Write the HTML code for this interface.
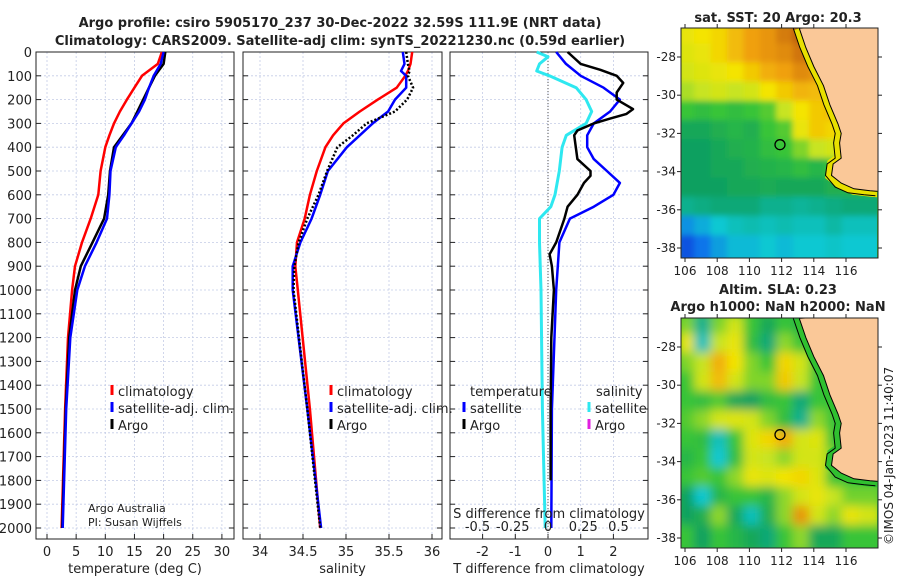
<!DOCTYPE html>
<html><head><meta charset="utf-8"><style>
html,body{margin:0;padding:0;background:#fff}
svg text{font-family:"DejaVu Sans","Liberation Sans",sans-serif;fill:#222}
</style></head><body>
<svg id="fig" width="900" height="580" viewBox="0 0 900 580" xmlns="http://www.w3.org/2000/svg">
<text x="340" y="27" text-anchor="middle" font-size="13" font-weight="bold">Argo profile: csiro 5905170_237 30-Dec-2022 32.59S 111.9E (NRT data)</text>
<text x="340" y="45" text-anchor="middle" font-size="13" font-weight="bold">Climatology: CARS2009. Satellite-adj clim: synTS_20221230.nc (0.59d earlier)</text>
<g id="plots"></g>
<text x="778" y="22" text-anchor="middle" font-size="13" font-weight="bold">sat. SST: 20 Argo: 20.3</text>
<text x="778" y="294" text-anchor="middle" font-size="13" font-weight="bold">Altim. SLA: 0.23</text>
<text x="778" y="311" text-anchor="middle" font-size="13" font-weight="bold">Argo h1000: NaN h2000: NaN</text>
<text transform="translate(893,545) rotate(-90)" font-size="12">©IMOS 04-Jan-2023 11:40:07</text>
<text x="88" y="512" font-size="11">Argo Australia</text>
<text x="88" y="526" font-size="11">PI: Susan Wijffels</text>
</svg>
<script>
// ---- profile data ----
const tDepth = [0,50,100,150,200,250,300,350,400,500,600,700,800,900,1000,1200,1500,2000];
const tArgo  = [20.3,20,18.5,17.5,16.5,15.5,14.5,13,11.5,10.8,10.5,9.8,7.8,5.8,4.8,3.8,3.2,2.6];
const tSat   = [20,19.5,18.3,17.5,16.8,15.8,14.5,13.2,11.8,10.9,10.7,10.3,8.5,6.5,5.2,4,3.3,2.7];
const tClim  = [19.7,19,16.3,15,13.7,12.5,11.5,10.7,10,9.2,8.8,7.5,6,4.8,4.3,3.6,3.1,2.5];
const sDepth = [0,50,80,100,150,200,250,300,350,400,500,600,700,800,900,1000,1500,2000];
const sClim  = [35.77,35.75,35.72,35.69,35.59,35.37,35.16,34.97,34.85,34.76,34.66,34.58,34.52,34.43,34.41,34.44,34.58,34.70];
const sSat   = [35.66,35.68,35.64,35.7,35.7,35.57,35.49,35.31,35.16,35.01,34.79,34.70,34.6,34.47,34.38,34.38,34.55,34.71];
const sArgo  = [35.7,35.72,35.74,35.72,35.78,35.71,35.57,35.24,35.08,34.9,34.78,34.68,34.55,34.45,34.4,34.39,34.55,34.7];
const dtDepth = [0,50,100,150,200,250,300,350,400,450,500,550,600,650,700,800,1000,1500,2000];
const dtSat   = [0.25,0.55,1.0,1.7,2.2,1.9,1.4,1.2,1.2,1.4,1.8,2.2,2.0,1.4,0.67,0.35,0.25,0.12,0.1];
const daDepth = [0,25,50,75,100,130,170,200,240,260,280,300,330,350,400,450,500,520,550,600,650,700,800,850,900,1000,1200,1500,1800];
const dtArgo  = [0.6,0.8,1.0,1.6,2.1,2.3,2.1,2.1,2.6,2.4,1.9,1.4,0.9,0.8,0.85,0.9,1.3,1.3,1.1,0.9,0.6,0.5,0.25,0.05,0.12,0.18,0.1,0.08,0.08];
const dsDepth = [0,20,50,80,100,150,200,250,300,350,400,500,600,650,700,800,1000,1500,2000];
const dsSat   = [-0.08,0,-0.06,-0.08,0.01,0.2,0.27,0.31,0.27,0.13,0.1,0.08,0.05,0.02,-0.06,-0.06,-0.05,-0.04,-0.02];
const depthTicks = [0,100,200,300,400,500,600,700,800,900,1000,1100,1200,1300,1400,1500,1600,1700,1800,1900,2000];
const tTicks = [0,5,10,15,20,25,30];
const sTicks = [34,34.5,35,35.5,36];
const dtTicks = [-2,-1,0,1,2];
const dsTicks = [-0.5,-0.25,0,0.25,0.5];
const dsTickLabels = ['-0.5','-0.25','0','0.25','0.5'];
// ---- map data (rows lat -27..-38, cols lon ~106..117) ----
const sstGrid = [
[.66,.68,.7,.74,.78,.8,.85,.9,.88,.8,.78,.78],
[.64,.66,.7,.74,.78,.8,.82,.86,.84,.78,.76,.76],
[.62,.64,.66,.68,.72,.76,.78,.82,.8,.76,.76,.76],
[.58,.6,.62,.6,.62,.68,.72,.75,.74,.74,.74,.74],
[.5,.48,.5,.48,.5,.52,.6,.68,.72,.74,.72,.72],
[.42,.42,.44,.46,.44,.5,.52,.66,.72,.7,.7,.7],
[.4,.4,.42,.44,.45,.48,.5,.55,.6,.62,.6,.6],
[.4,.4,.42,.42,.44,.45,.46,.48,.46,.5,.55,.55],
[.4,.4,.4,.42,.42,.43,.42,.42,.42,.44,.45,.45],
[.36,.37,.38,.38,.38,.36,.36,.35,.36,.37,.38,.38],
[.22,.26,.3,.32,.33,.32,.33,.32,.32,.34,.32,.32],
[.12,.18,.24,.28,.28,.3,.28,.3,.3,.31,.3,.3]];
const slaGrid = [
[.55,.36,.55,.62,.5,.42,.5,.46,.5,.5,.5,.5],
[.66,.32,.6,.66,.48,.38,.56,.5,.55,.5,.5,.5],
[.55,.6,.76,.68,.55,.5,.7,.62,.5,.5,.5,.5],
[.5,.62,.74,.62,.55,.55,.72,.6,.5,.5,.5,.5],
[.5,.48,.52,.42,.4,.48,.5,.38,.5,.5,.5,.5],
[.52,.56,.62,.64,.62,.55,.48,.36,.56,.5,.5,.5],
[.5,.48,.32,.5,.64,.7,.76,.62,.64,.5,.5,.5],
[.46,.5,.3,.48,.62,.6,.56,.62,.62,.55,.5,.5],
[.5,.52,.5,.56,.66,.64,.68,.7,.64,.5,.5,.5],
[.4,.3,.46,.5,.5,.46,.56,.62,.66,.6,.54,.54],
[.4,.44,.56,.42,.32,.44,.56,.8,.62,.56,.66,.62],
[.5,.4,.5,.46,.42,.38,.5,.56,.42,.42,.5,.5]];
const coastLon = [113.1,113.5,114,114.6,115,115.5,115.7,115.6,115.7,115.2,115.1,115.7,116.5,117.5,118.2];
const coastLat = [-26.5,-27.5,-28.5,-29.5,-30.5,-31.5,-32,-32.5,-33.3,-33.6,-34.2,-34.6,-34.9,-35,-35.05];
const lonTicks = [106,108,110,112,114,116];
const latTicks = [-28,-30,-32,-34,-36,-38];
const argoLon = 111.9, argoLat = -32.59;

const NS='http://www.w3.org/2000/svg';
const root=document.getElementById('plots');
function mk(tag,attrs,parent){const e=document.createElementNS(NS,tag);for(const k in attrs)e.setAttribute(k,attrs[k]);(parent||root).appendChild(e);return e;}
const Y0=52, YK=0.238, YB=539;
const yD=d=>Y0+d*YK;

function panel(name,x0,x1,xf,ticks,labels,xlabel,showY){
  const g=mk('g',{});
  
  
  depthTicks.forEach(d=>{const l=mk('line',{x1:x0,x2:x1,y1:yD(d),y2:yD(d),stroke:'#c4cce6','stroke-width':0.8,'stroke-dasharray':'2,2'},g);
    
    mk('line',{x1:x0,x2:x0+5,y1:yD(d),y2:yD(d),stroke:'#222'},g);mk('line',{x1:x1-5,x2:x1,y1:yD(d),y2:yD(d),stroke:'#222'},g);
    if(showY){const t=mk('text',{x:32,y:yD(d)+5,'text-anchor':'end','font-size':13},g);t.textContent=d;
      }
  });
  ticks.forEach((v,i)=>{const x=xf(v);const l=mk('line',{x1:x,x2:x,y1:Y0,y2:YB,stroke:'#c4cce6','stroke-width':0.8,'stroke-dasharray':'2,2'},g);
    
    mk('line',{x1:x,x2:x,y1:YB-5,y2:YB,stroke:'#222'},g);
    const t=mk('text',{x:x,y:YB+17,'text-anchor':'middle','font-size':13},g);t.textContent=labels[i];
    });
  const r=mk('rect',{x:x0,y:Y0,width:x1-x0,height:YB-Y0,fill:'none',stroke:'#222','stroke-width':1},g);
  
  const xl=mk('text',{x:(x0+x1)/2,y:573,'text-anchor':'middle','font-size':13},g);xl.textContent=xlabel;
  
  return g;
}
function line(g,name,xs,ds,xf,color,w,dash){
  const p=mk('polyline',{points:xs.map((v,i)=>xf(v).toFixed(1)+','+yD(ds[i]).toFixed(1)).join(' '),fill:'none',stroke:color,'stroke-width':w,'stroke-linejoin':'round'},g);
  if(dash)p.setAttribute('stroke-dasharray',dash);
  
  
}
function legend(g,x,y,color,label,name){
  const m=mk('line',{x1:x,x2:x,y1:y-11,y2:y-1,stroke:color,'stroke-width':3},g);
  
  const t=mk('text',{x:x+6,y:y,'font-size':13},g);t.textContent=label;
  
}
// panel 1
const xT=v=>47+5.83*v;
const g1=panel('temperature-panel',36,234,xT,tTicks,tTicks,'temperature (deg C)',true);
line(g1,'temp-climatology-line',tClim,tDepth,xT,'#f00',2.5);
line(g1,'temp-argo-line',tArgo,tDepth,xT,'#000',2.5);
line(g1,'temp-satellite-line',tSat,tDepth,xT,'#00f',2.5);
legend(g1,112,396,'#f00','climatology','legend-climatology');
legend(g1,112,413,'#00f','satellite-adj. clim.','legend-satellite');
legend(g1,112,430,'#000','Argo','legend-argo');
// panel 2
const xS=v=>260+86*(v-34);
const g2=panel('salinity-panel',243,442,xS,sTicks,sTicks,'salinity',false);
line(g2,'sal-climatology-line',sClim,sDepth,xS,'#f00',2.5);
line(g2,'sal-satellite-line',sSat,sDepth,xS,'#00f',2.5);
line(g2,'sal-argo-line',sArgo,sDepth,xS,'#000',2.5,'2,2');
legend(g2,331,396,'#f00','climatology','legend-climatology');
legend(g2,331,413,'#00f','satellite-adj. clim.','legend-satellite');
legend(g2,331,430,'#000','Argo','legend-argo');
// panel 3
const xDT=v=>548+32.7*v, xDS=v=>548+141*v;
const g3=panel('difference-panel',450,648,xDT,dtTicks,dtTicks,'T difference from climatology',false);
const z=mk('line',{x1:548,x2:548,y1:Y0,y2:YB,stroke:'#555','stroke-width':1,'stroke-dasharray':'1,2'},g3);

line(g3,'sdiff-satellite-line',dsSat,dsDepth,xDS,'#2ee8f0',3);
line(g3,'tdiff-satellite-line',dtSat,dtDepth,xDT,'#00f',2.5);
line(g3,'tdiff-argo-line',dtArgo,daDepth,xDT,'#000',2.5);
dsTicks.forEach((v,i)=>{const t=mk('text',{x:xDS(v),y:531,'text-anchor':'middle','font-size':13},g3);t.textContent=dsTickLabels[i];
  });
const st=mk('text',{x:549,y:518,'text-anchor':'middle','font-size':13},g3);st.textContent='S difference from climatology';

const th=mk('text',{x:470,y:396,'font-size':13},g3);th.textContent='temperature';

const sh=mk('text',{x:596,y:396,'font-size':13},g3);sh.textContent='salinity';

legend(g3,464,413,'#00f','satellite','legend-t-satellite');
legend(g3,464,430,'#000','Argo','legend-t-argo');
legend(g3,589,413,'#2ee8f0','satellite','legend-s-satellite');
legend(g3,589,430,'#e020e0','Argo','legend-s-argo');

// ---- maps ----
const stops=[[0,[0,32,160]],[.15,[16,96,240]],[.3,[16,200,210]],[.4,[16,160,96]],[.5,[56,196,56]],[.6,[200,228,32]],[.68,[244,228,0]],[.78,[240,160,16]],[.9,[192,96,16]],[1,[150,40,10]]];
function cmap(v){for(let i=1;i<stops.length;i++){if(v<=stops[i][0]){const a=stops[i-1],b=stops[i],f=(v-a[0])/(b[0]-a[0]);
  return 'rgb('+a[1].map((c,k)=>Math.round(c+(b[1][k]-c)*f)).join(',')+')';}}return 'rgb(150,40,10)';}
function map(name,top,grid,blur,bandColor){
  const MX0=681,MX1=878,MY0=top,MY1=top+230;
  const lx=lon=>685+(lon-106)*16.1, ly=lat=>top+29+(-28-lat)*19.1;
  const g=mk('g',{});
  
  
  const cid='clip-'+name;
  const defs=mk('defs',{},g);
  const cp=mk('clipPath',{id:cid},defs);mk('rect',{x:MX0,y:MY0,width:MX1-MX0,height:MY1-MY0},cp);
  const f=mk('filter',{id:'blur-'+name,x:'-10%',y:'-10%',width:'120%',height:'120%'},defs);mk('feGaussianBlur',{stdDeviation:blur},f);
  const cg=mk('g',{'clip-path':'url(#'+cid+')'},g);
  mk('rect',{x:MX0,y:MY0,width:MX1-MX0,height:MY1-MY0,fill:cmap(0.5)},cg);
  const hg=mk('g',{filter:'url(#blur-'+name+')'},cg);
  const nr=grid.length,nc=grid[0].length,cw=(MX1-MX0)/nc,ch=(MY1-MY0)/nr;
  grid.forEach((row,r)=>row.forEach((v,c)=>{const e=mk('rect',{x:MX0+c*cw-cw*0.2,y:MY0+r*ch-ch*0.2,width:cw*1.4+0.5,height:ch*1.4+0.5,fill:cmap(v)},hg);
    }));
  const cpts=coastLon.map((lo,i)=>lx(lo).toFixed(1)+','+ly(coastLat[i]).toFixed(1));
  const band=mk('polyline',{points:cpts.join(' '),fill:'none',stroke:bandColor,'stroke-width':12},cg);
  
  const shelf=mk('polyline',{points:coastLon.map((lo,i)=>(lx(lo)-6).toFixed(1)+','+(ly(coastLat[i])+(i>10?4:0)).toFixed(1)).join(' '),fill:'none',stroke:'#000','stroke-width':1},cg);
  
  const land=mk('polygon',{points:cpts.join(' ')+' '+(MX1+5)+','+(MY1+5)+' '+(MX1+5)+','+(MY0-5),fill:'#fac898',stroke:'#000','stroke-width':1},cg);
  
  mk('rect',{x:MX1-1,y:ly(-35.05),width:3,height:MY1-ly(-35.05),fill:cmap(0.5)},cg);
  const c=mk('circle',{cx:lx(argoLon),cy:ly(argoLat),r:5,fill:'none',stroke:'#000','stroke-width':1.3},g);
  
  const fr=mk('rect',{x:MX0,y:MY0,width:MX1-MX0,height:MY1-MY0,fill:'none',stroke:'#222'},g);
  
  lonTicks.forEach(lo=>{mk('line',{x1:lx(lo),x2:lx(lo),y1:MY1,y2:MY1+4,stroke:'#222'},g);mk('line',{x1:lx(lo),x2:lx(lo),y1:MY0-4,y2:MY0,stroke:'#222'},g);
    const t=mk('text',{x:lx(lo),y:MY1+17,'text-anchor':'middle','font-size':12},g);t.textContent=lo;
    });
  latTicks.forEach(la=>{mk('line',{x1:MX0-4,x2:MX0,y1:ly(la),y2:ly(la),stroke:'#222'},g);mk('line',{x1:MX1,x2:MX1+4,y1:ly(la),y2:ly(la),stroke:'#222'},g);
    const t=mk('text',{x:MX0-5,y:ly(la)+4,'text-anchor':'end','font-size':12},g);t.textContent=la;
    });
}
map('sst-map',28,sstGrid,3,'#e8e000');
map('sla-map',318,slaGrid,5,'#30c030');
</script>
</body></html>
